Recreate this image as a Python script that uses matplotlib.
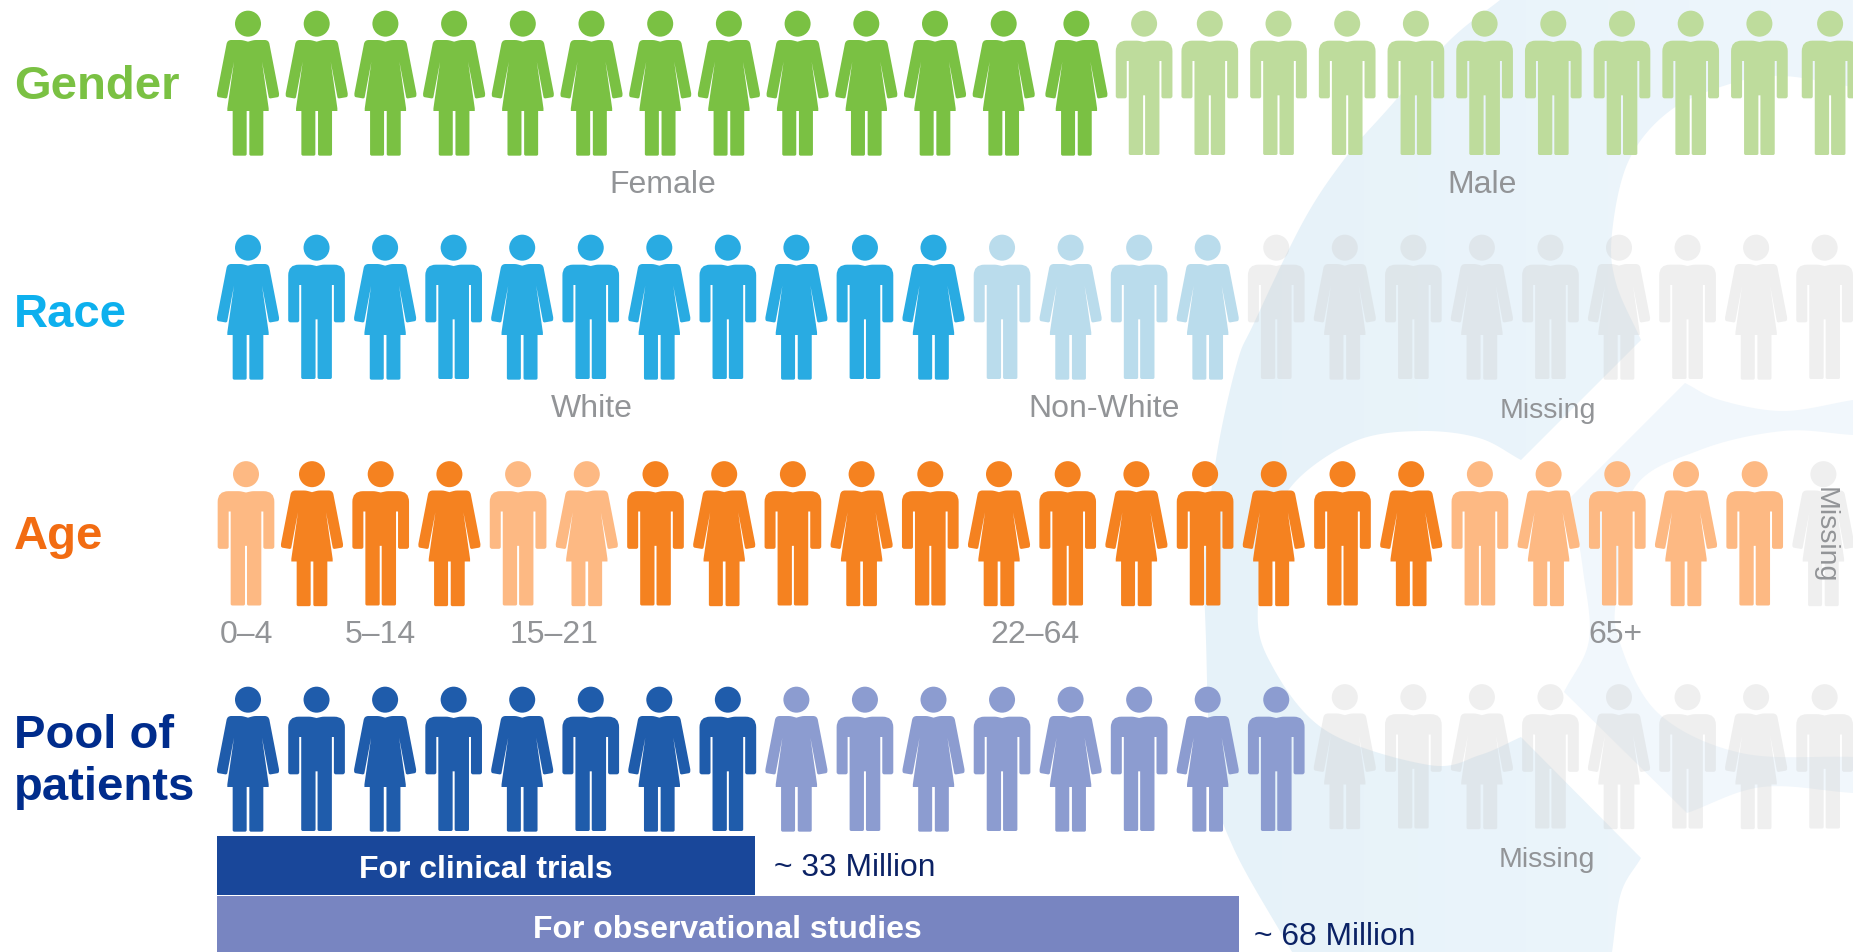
import numpy as np
import matplotlib
matplotlib.use("Agg")
import matplotlib.pyplot as plt
from matplotlib.path import Path
from matplotlib.patches import PathPatch, Rectangle
from matplotlib.transforms import Affine2D
from matplotlib.colors import LinearSegmentedColormap

plt.rcParams['font.family'] = ['Liberation Sans', 'DejaVu Sans']

# F/M = figure type, one letter per person
gender_people = list("FFFFFFFFFFFFFMMMMMMMMMMM")
race_people = list("FMFMFMFMFMFMFMFMFMFMFMFM")
age_people = list("MFMFMFMFMFMFMFMFMFMFMFMF")
pool_people = list("FMFMFMFMFMFMFMFMFMFMFMFM")

# shade per person: 0 = strong, 1 = pale, 2 = missing
gender_shade = [0] * 13 + [1] * 11
race_shade = [0] * 11 + [1] * 4 + [2] * 9
age_shade = [1, 0, 0, 0, 1, 1] + [0] * 12 + [1] * 5 + [2]
pool_shade = [0] * 8 + [1] * 8 + [2] * 8

row_names = ["Gender", "Race", "Age", "Pool of\npatients"]
gender_labels = ["Female", "Male"]
race_labels = ["White", "Non-White", "Missing"]
age_labels = ["0–4", "5–14", "15–21", "22–64", "65+"]
pool_bars = ["For clinical trials", "For observational studies"]
pool_sizes = ["~ 33 Million", "~ 68 Million"]

GREY = "#929497"
NAVY = "#0B2265"
W, H = 1853, 952

fig = plt.figure(figsize=(W / 100, H / 100), dpi=100)
ax = fig.add_axes([0, 0, 1, 1])


def smooth(pts, n=24):
    # catmull-rom through the points
    p = np.array(pts, dtype=float)
    p = np.vstack([2 * p[0] - p[1], p, 2 * p[-1] - p[-2]])
    out = []
    for i in range(1, len(p) - 2):
        for t in np.linspace(0, 1, n, endpoint=False):
            out.append(0.5 * (2 * p[i] + (p[i + 1] - p[i - 1]) * t
                              + (2 * p[i - 1] - 5 * p[i] + 4 * p[i + 1] - p[i + 2]) * t**2
                              + (3 * p[i] - p[i - 1] - 3 * p[i + 1] + p[i + 2]) * t**3))
    out.append(p[-2])
    return np.array(out)


def blob(segments):
    v = np.vstack([smooth(s) if len(s) > 2 else np.array(s, dtype=float) for s in segments])
    return Path(np.vstack([v, v[0]]), closed=True)


# background logo
logo_main = blob([
    [(1500, 0), (1450, 40), (1387, 110), (1346, 157), (1304, 220), (1254, 323), (1237, 363),
     (1217, 453), (1205, 553), (1206, 640), (1212, 773), (1233, 847), (1292, 952)],
    [(1612, 952), (1621, 893), (1641, 858)],
    [(1521, 737), (1480, 755), (1429, 765), (1325, 730), (1269, 660), (1258, 603), (1275, 520),
     (1300, 477), (1358, 440), (1421, 431), (1479, 438), (1521, 460)],
    [(1641, 340), (1616, 283), (1612, 233), (1629, 160), (1671, 110), (1733, 83), (1783, 76), (1853, 87)],
    [(1853, 0), (1853, 0)],
])
logo_side = blob([
    [(1685, 383), (1720, 400), (1783, 411), (1853, 400)],
    [(1853, 435), (1783, 431), (1700, 450), (1633, 490), (1617, 590), (1619, 640), (1658, 713),
     (1741, 753), (1853, 757)],
    [(1853, 793), (1762, 787), (1687, 813)],
    [(1564, 692), (1589, 640), (1583, 570), (1571, 497)],
])
grad = np.linspace(0, 1, 256).reshape(1, -1)
main_cmap = LinearSegmentedColormap.from_list("m", ["#E6F2F9", "#EEF6FC"])
side_cmap = LinearSegmentedColormap.from_list("s", ["#F3F9FD", "#F1F7FC"])
for path, cmap in [(logo_main, main_cmap), (logo_side, side_cmap)]:
    im = ax.imshow(grad, extent=[1200, W, H, 0], cmap=cmap, aspect='auto', zorder=0)
    im.set_clip_path(PathPatch(path, transform=ax.transData))


def outline(half):
    # half is (x, y, corner) for the right side, mirrored for the left
    pts = half + [(-x, y, r) for x, y, r in reversed(half) if x != 0]
    verts, codes = [], []
    n = len(pts)
    for i, (x, y, r) in enumerate(pts):
        here = np.array([x, y], dtype=float)
        if r == 0:
            verts.append(here)
            codes.append(Path.LINETO)
            continue
        a = np.array(pts[i - 1][:2], dtype=float) - here
        b = np.array(pts[(i + 1) % n][:2], dtype=float) - here
        verts += [here + a / np.linalg.norm(a) * r, here, here + b / np.linalg.norm(b) * r]
        codes += [Path.LINETO, Path.CURVE3, Path.CURVE3]
    codes[0] = Path.MOVETO
    verts.append(verts[0])
    codes.append(Path.CLOSEPOLY)
    return Path(verts, codes)


def person(half, head_y):
    head = Path.circle((0, head_y), 39)
    return Path.make_compound_path(head, outline(half))


# outlines traced at 3x, origin is middle of the head top
FEMALE = person([(0, 92, 0), (18, 87, 6), (62, 87, 12), (94, 252, 7), (92, 258, 4),
                 (63, 263, 5), (42, 152, 0), (62, 292, 0), (62, 300, 0), (46, 300, 0), (46, 434, 5),
                 (4, 434, 5), (4, 300, 0), (0, 300, 0)], 38)
MALE = person([(0, 93, 0), (18, 89, 5), (85, 89, 32), (85, 262, 7), (52, 262, 6), (52, 150, 0),
               (46, 150, 0), (46, 432, 5), (3, 432, 5), (3, 253, 0), (0, 253, 0)], 38)
SHAPES = {"F": FEMALE, "M": MALE}

rows = [
    dict(people=gender_people, shade=gender_shade, top=11, start=248, step=68.7,
         colors=["#7AC143", "#BEDC9C"], nudge={12: 4, 13: 3, 23: 2}),
    dict(people=race_people, shade=race_shade, top=235, start=248, step=68.55,
         colors=["#29ABE2", "#BADCEC"], nudge={}),
    dict(people=age_people, shade=age_shade, top=461.5, start=243.3, step=68.7,
         colors=["#F58220", "#FDB983"], nudge={0: 2.7}),
    dict(people=pool_people, shade=pool_shade, top=687, start=248, step=68.55,
         colors=["#1F5CAB", "#8C9CD0"], nudge={}, missing_dy=-2.5),
]

for row in rows:
    for i, (sex, shade) in enumerate(zip(row["people"], row["shade"])):
        cx = row["start"] + i * row["step"] + row["nudge"].get(i, 0)
        top = row["top"]
        if shade == 2:
            color, alpha = "#CACACA", 0.3
            top += row.get("missing_dy", 0)
        else:
            color, alpha = row["colors"][shade], 1
        tr = Affine2D().scale(1 / 3).translate(cx, top)
        ax.add_patch(PathPatch(SHAPES[sex].transformed(tr), fc=color, ec="none", alpha=alpha, zorder=2))

# row titles
ax.text(14, 99, row_names[0], color="#7AC143", fontsize=34, fontweight='bold', zorder=3)
ax.text(14, 327, row_names[1], color="#0DB0EE", fontsize=34, fontweight='bold', zorder=3)
ax.text(14, 549, row_names[2], color="#F26C12", fontsize=34, fontweight='bold', zorder=3)
for line, y in zip(row_names[3].split("\n"), [748, 800]):
    ax.text(14, y, line, color="#002C8C", fontsize=34, fontweight='bold', zorder=3)

# grey labels under the rows
for txt, x in zip(gender_labels, [663, 1482]):
    ax.text(x, 193, txt, color=GREY, fontsize=23, ha='center', zorder=3)
for txt, x, y, fs in zip(race_labels, [591.5, 1104, 1548], [417, 417, 418], [23, 23, 20.5]):
    ax.text(x, y, txt, color=GREY, fontsize=fs, ha='center', zorder=3)
for txt, x in zip(age_labels, [246.7, 380, 553.7, 1035, 1615]):
    ax.text(x, 643, txt, color=GREY, fontsize=23, ha='center', zorder=3)
ax.text(1825, 535, "Missing", color=GREY, fontsize=20.5, rotation=-90, ha='center', va='center', zorder=3)
ax.text(1547, 867, "Missing", color=GREY, fontsize=20.5, ha='center', zorder=3)

# bars at the bottom
ax.add_patch(Rectangle((217, 836), 538, 59, fc="#19479A", ec="none", zorder=2))
ax.add_patch(Rectangle((217, 896), 1022, 56, fc="#7885C1", ec="none", zorder=2))
ax.text(486, 878, pool_bars[0], color="white", fontsize=23, fontweight='bold', ha='center', zorder=3)
ax.text(727, 938, pool_bars[1], color="white", fontsize=23, fontweight='bold', ha='center', zorder=3)
ax.text(774, 876, pool_sizes[0], color=NAVY, fontsize=22.9, zorder=3)
ax.text(1254, 945, pool_sizes[1], color=NAVY, fontsize=22.9, zorder=3)

ax.set_xlim(0, W)
ax.set_ylim(H, 0)
ax.axis('off')
fig.savefig("out.png", dpi=100, facecolor="white")
